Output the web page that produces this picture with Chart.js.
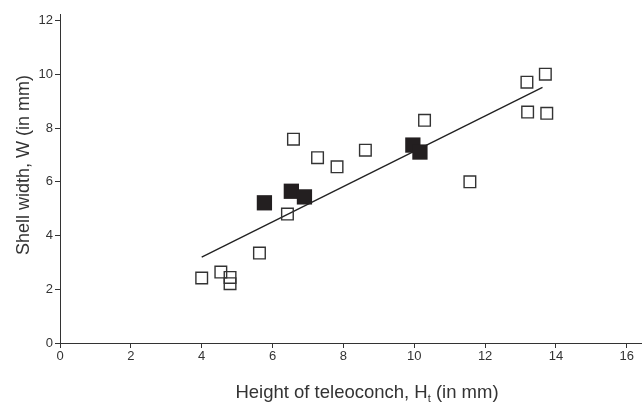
<!DOCTYPE html>
<html>
<head>
<meta charset="utf-8">
<script src="https://cdn.jsdelivr.net/npm/chart.js@4/dist/chart.umd.min.js"></script>
<style>
  html, body { margin: 0; padding: 0; background: #fff; }
  #wrap { width: 642px; height: 403px; position: relative; }
</style>
</head>
<body>
<div id="wrap"><canvas id="shellChart"></canvas></div>
<script>
// Open squares
const openX = [4.00, 4.54, 4.80, 4.80, 5.63, 6.42, 6.59, 7.27, 7.82, 8.62, 10.29, 11.57, 13.18, 13.70, 13.20, 13.74];
const openY = [2.42, 2.64, 2.44, 2.21, 3.35, 4.80, 7.59, 6.90, 6.56, 7.18, 8.29, 6.00, 9.71, 10.01, 8.60, 8.55];
// Filled squares
const filledX = [5.77, 6.53, 6.90, 9.96, 10.16];
const filledY = [5.22, 5.65, 5.44, 7.37, 7.11];
// Regression line end points
const fitX = [4.0, 13.62];
const fitY = [3.2, 9.52];

const xTitle = ['Height of teleoconch, H', 't', ' (in mm)'];
const yTitle = 'Shell width, W (in mm)';

const FONT = "'Liberation Sans', Arial, sans-serif";
const INK = '#333';

const toPoints = (xs, ys) => xs.map((x, i) => ({ x: x, y: ys[i] }));

// axis titles (x title has a subscript t)
const titlesPlugin = {
    id: 'titles',
    afterDraw(chart) {
        const ctx = chart.ctx;
        const area = chart.chartArea;
        ctx.save();
        ctx.fillStyle = INK;
        ctx.textBaseline = 'alphabetic';

        ctx.font = '18.5px ' + FONT;
        const w0 = ctx.measureText(xTitle[0]).width;
        const w2 = ctx.measureText(xTitle[2]).width;
        ctx.font = '11px ' + FONT;
        const w1 = ctx.measureText(xTitle[1]).width;
        const total = w0 + w1 + w2;
        let x = 367 - total / 2;
        const base = 398;
        ctx.textAlign = 'left';
        ctx.font = '18.5px ' + FONT;
        ctx.fillText(xTitle[0], x, base);
        x += w0;
        ctx.font = '11px ' + FONT;
        ctx.fillText(xTitle[1], x, base + 4);
        x += w1;
        ctx.font = '18.5px ' + FONT;
        ctx.fillText(xTitle[2], x, base);

        ctx.font = '18px ' + FONT;
        ctx.translate(29, 165);
        ctx.rotate(-Math.PI / 2);
        ctx.textAlign = 'center';
        ctx.fillText(yTitle, 0, 0);
        ctx.restore();
    }
};

const axisBase = {
    type: 'linear',
    min: 0,
    grid: {
        display: true,
        drawOnChartArea: false,
        drawTicks: true,
        tickLength: 5,
        color: INK,
        lineWidth: 1
    },
    border: { display: true, color: INK, width: 1 },
    title: { display: false }
};

new Chart(document.getElementById('shellChart'), {
    type: 'scatter',
    data: {
        datasets: [
            {
                label: 'filled',
                data: toPoints(filledX, filledY),
                pointStyle: 'rect',
                pointRadius: 10.8,
                pointHoverRadius: 10.8,
                backgroundColor: '#231f20',
                borderColor: '#231f20',
                borderWidth: 0,
                order: 0
            },
            {
                label: 'open',
                data: toPoints(openX, openY),
                pointStyle: 'rect',
                pointRadius: 8.2,
                pointHoverRadius: 8.2,
                backgroundColor: 'rgba(0,0,0,0)',
                borderColor: INK,
                borderWidth: 1.4,
                order: 1
            },
            {
                type: 'line',
                label: 'fit',
                data: toPoints(fitX, fitY),
                borderColor: '#222',
                borderWidth: 1.4,
                pointRadius: 0,
                fill: false,
                order: 2
            }
        ]
    },
    options: {
        responsive: true,
        maintainAspectRatio: false,
        animation: false,
        layout: {
            autoPadding: false,
            padding: { left: 0, top: 14, right: 1, bottom: 0 }
        },
        plugins: {
            legend: { display: false },
            tooltip: { enabled: false }
        },
        scales: {
            x: {
                ...axisBase,
                max: 16.4,
                ticks: {
                    stepSize: 2,
                    includeBounds: false,
                    color: INK,
                    padding: 1,
                    font: { family: FONT, size: 13 }
                },
                afterFit(scale) {
                    scale.height = 60;
                    scale.paddingLeft = 0;
                    scale.paddingRight = 0;
                }
            },
            y: {
                ...axisBase,
                max: 12.25,
                ticks: {
                    stepSize: 2,
                    includeBounds: false,
                    color: INK,
                    padding: 2,
                    font: { family: FONT, size: 13 }
                },
                afterFit(scale) {
                    scale.width = 60;
                    scale.paddingTop = 0;
                    scale.paddingBottom = 0;
                }
            }
        }
    },
    plugins: [titlesPlugin]
});
</script>
</body>
</html>
